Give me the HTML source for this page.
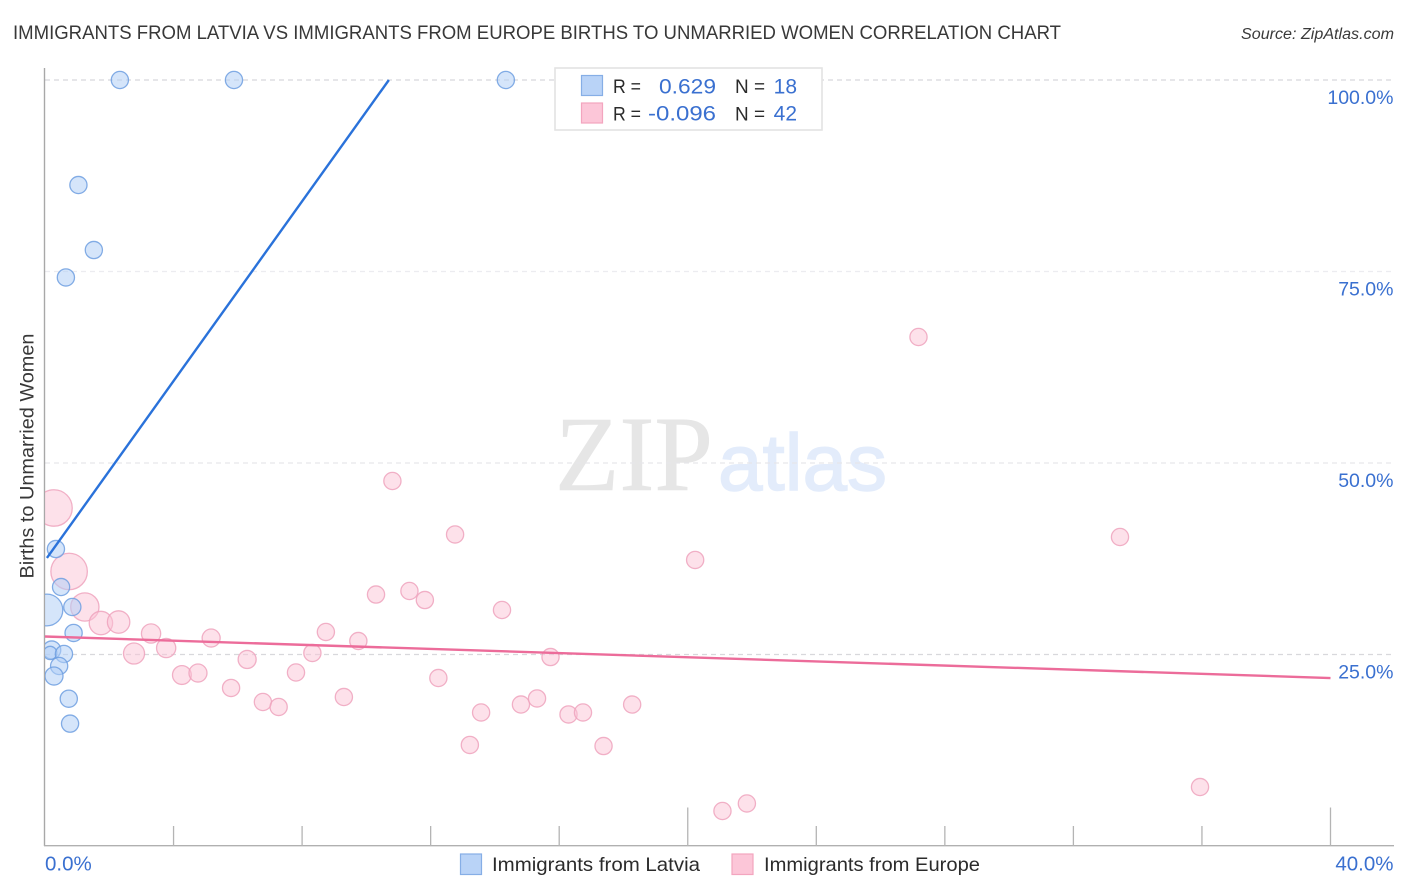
<!DOCTYPE html>
<html lang="en">
<head>
<meta charset="utf-8">
<title>Immigrants from Latvia vs Immigrants from Europe Births to Unmarried Women Correlation Chart</title>
<style>
html,body{margin:0;padding:0;background:#fff;width:1406px;height:892px;overflow:hidden}
svg{display:block;font-family:"Liberation Sans",sans-serif}
</style>
</head>
<body>
<svg id="chart" xmlns="http://www.w3.org/2000/svg" width="1406" height="892" viewBox="0 0 1406 892">
  <text x="13" y="39" font-size="19.5" fill="#383838" textLength="1048" lengthAdjust="spacingAndGlyphs">IMMIGRANTS FROM LATVIA VS IMMIGRANTS FROM EUROPE BIRTHS TO UNMARRIED WOMEN CORRELATION CHART</text>
  <text x="1241" y="39" font-size="15.5" font-style="italic" fill="#3a3a3a" textLength="153" lengthAdjust="spacingAndGlyphs">Source: ZipAtlas.com</text>
  <text transform="translate(33.5,456) rotate(-90)" text-anchor="middle" font-size="19" fill="#383838" textLength="245" lengthAdjust="spacingAndGlyphs">Births to Unmarried Women</text>
  <text x="555" y="490" font-family="'Liberation Serif',serif" font-size="107" fill="#e6e6e6" stroke="#e6e6e6" stroke-width="0.6" textLength="158" lengthAdjust="spacingAndGlyphs">ZIP</text>
  <text x="718" y="490" font-size="80" fill="#e3ecfb" stroke="#e3ecfb" stroke-width="1.4">atlas</text>
  <g id="grid"></g>
  <g id="axes"></g>
  <svg x="45" y="60" width="1349" height="786" viewBox="45 60 1349 786" overflow="hidden">
    <g id="pink-points"></g>
    <g id="blue-points"></g>
  </svg>
  <g id="trends"></g>
  <g id="y-labels"></g>
  <g id="x-labels"></g>

  <g>
    <rect x="555" y="68" width="267" height="62" fill="#fff" stroke="#e3e3e3" stroke-width="1.6"/>
    <rect x="581.5" y="75.5" width="21" height="20" fill="#b9d3f7" stroke="#86aee6" stroke-width="1.2"/>
    <rect x="581.5" y="103" width="21" height="20" fill="#fcc6d8" stroke="#f3a5bf" stroke-width="1.2"/>
    <text x="613" y="93" font-size="19.5" fill="#2b2b2b" textLength="28" lengthAdjust="spacingAndGlyphs">R =</text>
    <text x="659" y="93.5" font-size="21" fill="#3a70d0" textLength="57" lengthAdjust="spacingAndGlyphs">0.629</text>
    <text x="735" y="93" font-size="19.5" fill="#2b2b2b" textLength="30" lengthAdjust="spacingAndGlyphs">N =</text>
    <text x="797" y="93.5" font-size="21" fill="#3a70d0" text-anchor="end">18</text>
    <text x="613" y="120.5" font-size="19.5" fill="#2b2b2b" textLength="28" lengthAdjust="spacingAndGlyphs">R =</text>
    <text x="648" y="120.5" font-size="21" fill="#3a70d0" textLength="68" lengthAdjust="spacingAndGlyphs">-0.096</text>
    <text x="735" y="120.5" font-size="19.5" fill="#2b2b2b" textLength="30" lengthAdjust="spacingAndGlyphs">N =</text>
    <text x="797" y="120.5" font-size="21" fill="#3a70d0" text-anchor="end">42</text>
  </g>

  <g>
    <rect x="460.5" y="854" width="21" height="20.5" fill="#b9d3f7" stroke="#86aee6" stroke-width="1.2"/>
    <text x="492" y="871" font-size="19.5" fill="#2b2b2b" textLength="208" lengthAdjust="spacingAndGlyphs">Immigrants from Latvia</text>
    <rect x="732" y="854" width="21" height="20.5" fill="#fcc6d8" stroke="#f3a5bf" stroke-width="1.2"/>
    <text x="764" y="871" font-size="19.5" fill="#2b2b2b" textLength="216" lengthAdjust="spacingAndGlyphs">Immigrants from Europe</text>
  </g>
</svg>
<script>
const latviaX = [2.33,5.88,14.34,1.04,1.52,0.65,0.34,0.50,0.06,0.85,0.89,0.21,0.16,0.59,0.44,0.28,0.74,0.78];
const latviaY = [100,100,100,86.29,77.8,74.22,38.77,33.81,30.81,31.2,27.81,25.59,25.2,25.07,23.5,22.19,19.23,15.97];
const latviaWeight = [1,1,1,1,1,1,1,1,3.4,1,1,1.1,0.6,1,1,1.1,1,1];

const europeX = [0.28,0.75,1.24,1.74,2.29,2.77,3.30,3.77,4.26,4.76,5.17,5.79,6.29,6.78,7.27,7.81,8.32,8.74,9.30,9.75,10.30,10.81,11.34,11.82,12.24,12.76,13.22,13.57,14.22,14.81,15.31,15.73,16.29,16.74,17.38,18.27,20.23,21.08,21.84,27.18,33.45,35.94];
const europeY = [44.13,35.84,31.2,29.11,29.24,25.13,27.74,25.85,22.32,22.58,27.15,20.63,24.35,18.8,18.15,22.65,25.2,27.94,19.45,26.76,32.83,47.65,33.29,32.11,21.93,40.67,13.19,17.43,30.81,18.47,19.26,24.67,17.17,17.43,13.05,18.47,37.34,4.57,5.55,66.45,40.34,7.70];
const europeWeight = [4.5,4.5,2.7,1.85,1.7,1.5,1.25,1.25,1.2,1.1,1.1,1,1.1,1,1,1,1,1,1,1,1,1,1,1,1,1,1,1,1,1,1,1,1,1,1,1,1,1,1,1,1,1];

const latviaTrendX = [0.06,10.7];
const latviaTrendY = [37.6,100];
const europeTrendX = [0,40];
const europeTrendY = [27.35,21.93];

const yGridValues = [100,75,50,25];
const yTickLabels = ['100.0%','75.0%','50.0%','25.0%'];
const xTickValues = [4,8,12,16,20,24,28,32,36,40];
const xMajorTicks = [20,40];
const xEndValues = [0,40];
const xEndLabels = ['0.0%','40.0%'];

const NS = 'http://www.w3.org/2000/svg';
function sx(v){ return 45 + v * 1285.5 / 40; }
function sy(v){ return 846 - v * 7.66; }
function sr(w){ return 8.6 * Math.sqrt(w); }
function make(tag, parent, attrs){
  const el = document.createElementNS(NS, tag);
  for (const k in attrs) el.setAttribute(k, attrs[k]);
  document.getElementById(parent).appendChild(el);
  return el;
}

const gridColors = ['#d6d6dc','#ececf0','#e6e6ea','#d8d8dc'];
yGridValues.forEach(function(v, i){
  const g = make('line', 'grid', {x1:45, x2:1394, y1:sy(v), y2:sy(v), stroke:gridColors[i], 'stroke-width':1.2, 'stroke-dasharray':'5 4'});
  
  
  const t = make('text', 'y-labels', {x:1393.5, y:sy(v) + 24, 'text-anchor':'end', 'font-size':19.5, fill:'#3a70d0'});
  t.textContent = yTickLabels[i];
  
  
});

const yAxis = make('line', 'axes', {x1:44.5, x2:44.5, y1:68, y2:846, stroke:'#a8a8a8', 'stroke-width':1.4});


const xAxis = make('line', 'axes', {x1:44, x2:1394, y1:845.7, y2:845.7, stroke:'#b0b0b0', 'stroke-width':1.4});



xTickValues.forEach(function(v){
  const top = xMajorTicks.indexOf(v) >= 0 ? 807.5 : 826;
  const t = make('line', 'axes', {x1:sx(v), x2:sx(v), y1:top, y2:846, stroke:'#b4b4b4', 'stroke-width':1.3});
  
  
});

xEndValues.forEach(function(v, i){
  const t = make('text', 'x-labels', {x: i === 0 ? 45 : 1393.5, y:870.5, 'text-anchor': i === 0 ? 'start' : 'end', 'font-size':20.5, fill:'#3a70d0'});
  t.textContent = xEndLabels[i];
  
  
});

europeX.forEach(function(v, i){
  const c = make('circle', 'pink-points', {cx:sx(v), cy:sy(europeY[i]), r:sr(europeWeight[i]), fill:'#fbc4d6', 'fill-opacity':0.5, stroke:'#efa3bd', 'stroke-opacity':0.85, 'stroke-width':1.3});
  
  
});
latviaX.forEach(function(v, i){
  const c = make('circle', 'blue-points', {cx:sx(v), cy:sy(latviaY[i]), r:sr(latviaWeight[i]), fill:'#b3cff5', 'fill-opacity':0.55, stroke:'#6f9fe0', 'stroke-opacity':0.85, 'stroke-width':1.3});
  
  
});

const blueLine = make('line', 'trends', {x1:sx(latviaTrendX[0]), y1:sy(latviaTrendY[0]), x2:sx(latviaTrendX[1]), y2:sy(latviaTrendY[1]), stroke:'#2a72da', 'stroke-width':2.4});


const pinkLine = make('line', 'trends', {x1:sx(europeTrendX[0]), y1:sy(europeTrendY[0]), x2:sx(europeTrendX[1]), y2:sy(europeTrendY[1]), stroke:'#ec6c9a', 'stroke-width':2.4});


</script>
</body>
</html>
